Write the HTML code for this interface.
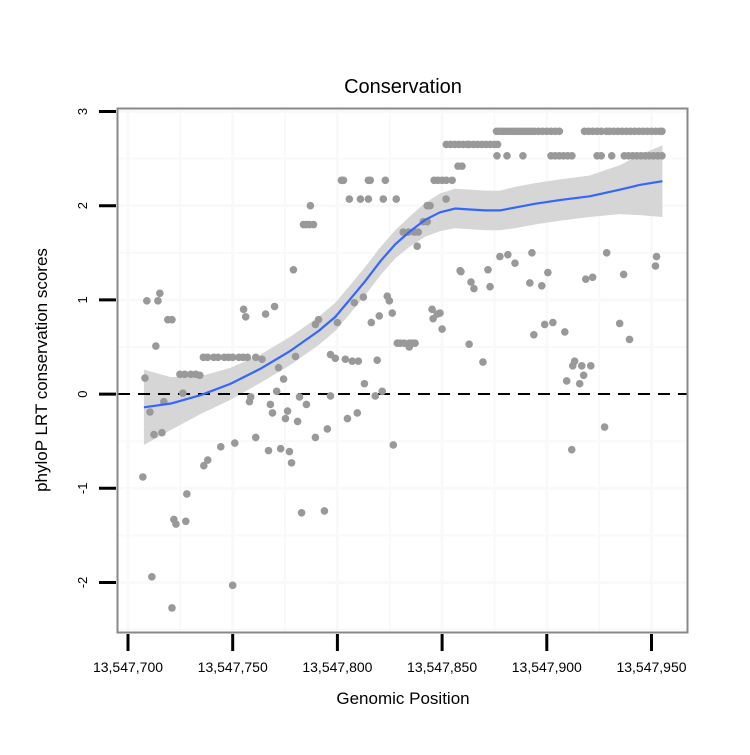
<!DOCTYPE html>
<html><head><meta charset="utf-8"><style>
body{margin:0;background:#fff;}
svg text{font-family:"Liberation Sans",sans-serif;}
</style></head><body>
<svg id="chart" width="750" height="750" viewBox="0 0 750 750" xmlns="http://www.w3.org/2000/svg">
<rect x="0" y="0" width="750" height="750" fill="#fff"/>
<text x="403" y="93" font-size="20" text-anchor="middle" fill="#000">Conservation</text>
<text x="403" y="704" font-size="17" text-anchor="middle" fill="#000">Genomic Position</text>
<text x="0" y="0" font-size="17" text-anchor="middle" fill="#000" transform="translate(47,370) rotate(-90)">phyloP LRT conservation scores</text>
<g id="grid"></g>
<g id="band"></g>
<line x1="118" x2="688" y1="394" y2="394" stroke="#000" stroke-width="2" stroke-dasharray="12,8"/>
<g id="points"></g>
<g id="smooth"></g>
<rect x="117.5" y="108.5" width="570" height="524" fill="none" stroke="#888" stroke-width="2"/>
<g id="axes"></g>
</svg>
<script>
const xTicks=[700,750,800,850,900,950];
const xTickLabels=["13,547,700","13,547,750","13,547,800","13,547,850","13,547,900","13,547,950"];
const yTicks=[-2,-1,0,1,2,3];
const yTickLabels=["-2","-1","0","1","2","3"];
// offsets from 13,547,000
const ptX=[707.1,709,714.3,715.2,719,721,713.3,708.1,710.5,712.4,716.2,717.1,711.4,721,722.9,721.9,727.6,728.1,726.2,724.8,727.1,730,732.4,734.3,736.2,738.1,744.3,751,750,
736,738,741,743,746,748,750,753,755,757,761,764,756.2,755.2,765.7,770,758.6,758,761,768,769,767.1,772.9,777.1,778.1,782.9,793.8,775.2,776.2,781,781.9,785.2,774.3,771.9,771,780,789.5,789.5,779,
801.9,802.9,814.8,815.7,822.9,805.7,811,814.8,821.9,828.1,787.1,783.8,785.2,786.7,788.6,791,800,808.1,812.4,823.8,824.8,826.2,816.2,820,845.2,847.6,845.7,850,858.6,838.1,831.4,834,836.7,838.6,841,842.9,842.9,844.3,851.9,846.2,848,850,852,854.8,857.6,859.5,
796.7,799,803.8,807.1,810,819,812.9,821.4,818.1,796.7,809.5,804.8,795.2,826.7,828.6,830,831.9,834.3,835.7,837.1,834.3,
876,877.5,879,880.5,882,883.5,885,886.5,888,889.5,891,892.5,894,896,898,900,902,904,906,918,920,922,924,926,928.5,930,932,934,936,938,940,942,944,946,948,950,952,954,955,
852,854,856,858,860,862,863,865,867,869,871,873,875,876.5,
876.2,881,888.6,902,904,906,908,910,912,924,926,931,937,939,941,943,945,947,949,951,953,955,
877.6,881.4,892.9,884.8,859,871.9,863.8,865.2,872.9,900.5,891.9,897.6,918.6,921.9,928.6,936.7,952.4,951.9,
849,862.9,869.5,899,902.9,893.8,908.6,934.8,939.5,913.3,912.4,916.7,921,917.6,909.5,915.7,927.6,911.9];
const ptY=[-0.88,0.99,0.99,1.07,0.79,0.79,0.51,0.17,-0.19,-0.43,-0.41,-0.08,-1.94,-2.27,-1.38,-1.33,-1.35,-1.06,0.01,0.21,0.21,0.21,0.21,0.2,-0.76,-0.7,-0.56,-0.52,-2.03,
0.39,0.39,0.39,0.39,0.39,0.39,0.39,0.39,0.39,0.39,0.39,0.37,0.82,0.9,0.85,0.93,-0.03,-0.08,-0.46,-0.11,-0.2,-0.6,-0.58,-0.61,-0.73,-1.26,-1.24,-0.26,-0.18,-0.29,-0.03,-0.11,0.16,0.28,0.03,0.4,-0.46,0.74,1.32,
2.27,2.27,2.27,2.27,2.27,2.07,2.07,2.07,2.07,2.07,2.0,1.8,1.8,1.8,1.8,0.79,0.76,0.97,1.03,1.04,0.99,0.86,0.76,0.83,0.9,0.85,0.8,0.69,1.31,1.57,1.72,1.72,1.72,1.72,1.83,1.83,2.0,2.0,2.07,2.27,2.27,2.27,2.27,2.27,2.42,2.42,
0.42,0.38,0.37,0.35,0.35,0.36,0.11,0.03,-0.02,-0.02,-0.2,-0.26,-0.37,-0.54,0.54,0.54,0.54,0.54,0.54,0.54,0.5,
2.79,2.79,2.79,2.79,2.79,2.79,2.79,2.79,2.79,2.79,2.79,2.79,2.79,2.79,2.79,2.79,2.79,2.79,2.79,2.79,2.79,2.79,2.79,2.79,2.79,2.79,2.79,2.79,2.79,2.79,2.79,2.79,2.79,2.79,2.79,2.79,2.79,2.79,2.79,
2.65,2.65,2.65,2.65,2.65,2.65,2.65,2.65,2.65,2.65,2.65,2.65,2.65,2.65,
2.53,2.53,2.53,2.53,2.53,2.53,2.53,2.53,2.53,2.53,2.53,2.53,2.53,2.53,2.53,2.53,2.53,2.53,2.53,2.53,2.53,2.53,
1.46,1.48,1.5,1.39,1.3,1.32,1.19,1.12,1.14,1.29,1.18,1.15,1.22,1.24,1.5,1.27,1.46,1.36,
0.86,0.53,0.34,0.74,0.76,0.63,0.66,0.75,0.58,0.35,0.3,0.3,0.3,0.2,0.14,0.11,-0.35,-0.59];
const fitX=[707.6,720.5,734.8,749,763.3,777.6,791,799,806.2,813.3,820.5,827.6,834.8,841.9,849,856.2,863.3,870.5,877.6,884.8,894.3,906.2,920.5,934.8,944.3,955.2];
const fitY=[-0.14,-0.1,-0.01,0.11,0.27,0.46,0.67,0.82,1.01,1.2,1.41,1.59,1.73,1.85,1.93,1.97,1.96,1.95,1.95,1.98,2.02,2.06,2.1,2.17,2.22,2.26];
const fitSE=[0.4,0.28,0.2,0.17,0.15,0.15,0.15,0.15,0.15,0.15,0.15,0.15,0.16,0.18,0.2,0.21,0.21,0.21,0.21,0.22,0.22,0.22,0.22,0.26,0.32,0.38];

const NS="http://www.w3.org/2000/svg";
function sx(v){return 128+(v-700)*2.094;}
function sy(v){return 394.1-v*94.2;}
function mk(tag,attrs,parent){const e=document.createElementNS(NS,tag);for(const k in attrs)e.setAttribute(k,attrs[k]);parent.appendChild(e);return e;}
const grid=document.getElementById('grid');
for(let v=675;v<=975;v+=25){const x=sx(v);if(x<119||x>687)continue;
 const l=mk('line',{x1:x,x2:x,y1:109,y2:632,stroke:'#f9f9f9','stroke-width':(v%50===0)?3:2},grid);
 
 }
for(let v=-2.5;v<=3;v+=0.5){const y=sy(v);if(y<110||y>631)continue;
 const l=mk('line',{x1:118,x2:688,y1:y,y2:y,stroke:'#f9f9f9','stroke-width':(v%1===0)?3:2},grid);
 
 }
// band
let d='';
for(let i=0;i<fitX.length;i++)d+=(i?'L':'M')+sx(fitX[i])+','+sy(fitY[i]+fitSE[i]);
for(let i=fitX.length-1;i>=0;i--)d+='L'+sx(fitX[i])+','+sy(fitY[i]-fitSE[i]);
const band=mk('path',{d:d+'Z',fill:'#d6d6d6'},document.getElementById('band'));


// points
const pg=document.getElementById('points');
for(let i=0;i<ptX.length;i++){
 const c=mk('circle',{cx:sx(ptX[i]),cy:sy(ptY[i]),r:3.8,fill:'#999'},pg);
 
 }
// line
let ld='';
for(let i=0;i<fitX.length;i++)ld+=(i?'L':'M')+sx(fitX[i])+','+sy(fitY[i]);
const ln=mk('path',{d:ld,fill:'none',stroke:'#3366ff','stroke-width':2.2,'stroke-linejoin':'round'},document.getElementById('smooth'));


// axes
const ax=document.getElementById('axes');
xTicks.forEach((v,i)=>{const x=sx(v);
 const t=mk('line',{x1:x,x2:x,y1:634,y2:651,stroke:'#000','stroke-width':3},ax);
 
 
 const tx=mk('text',{x:x,y:672,'font-size':14,'text-anchor':'middle',fill:'#000'},ax);
 tx.textContent=xTickLabels[i];
 
 });
yTicks.forEach((v,i)=>{const y=sy(v);
 const t=mk('line',{x1:99,x2:116,y1:y,y2:y,stroke:'#000','stroke-width':3},ax);
 
 
 const tx=mk('text',{x:0,y:0,'font-size':13,'text-anchor':'middle',fill:'#000',transform:'translate(87,'+y+') rotate(-90)'},ax);
 tx.textContent=yTickLabels[i];
 
 });
</script>
</body></html>
